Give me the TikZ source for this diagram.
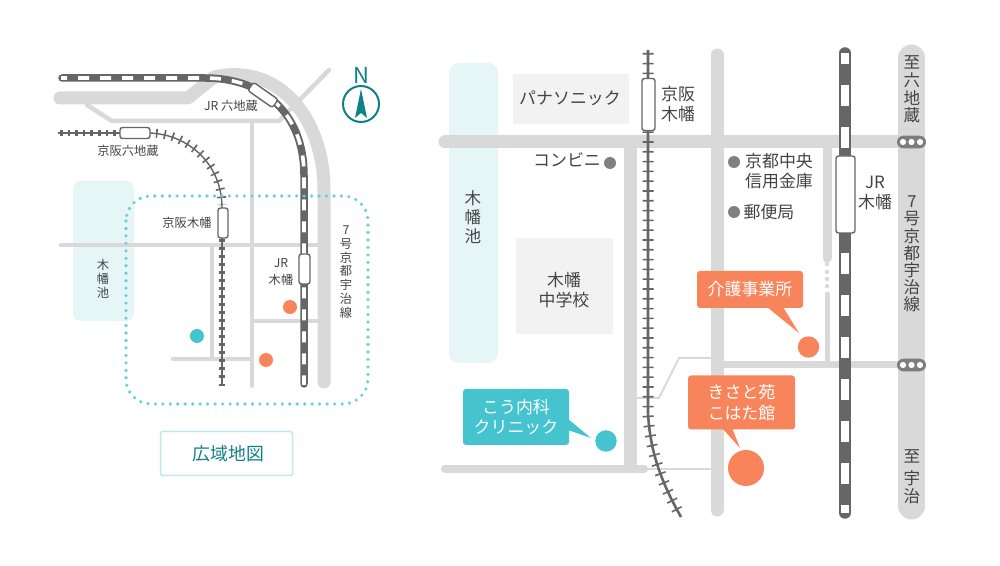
\documentclass[tikz,border=0pt]{standalone}
\usepackage{fontspec}
\setmainfont{Noto Sans CJK JP}
\newdimen\mypx \mypx=0.75pt
\definecolor{roadc}{HTML}{D9D9D9}
\definecolor{trackc}{HTML}{666666}
\definecolor{waterc}{HTML}{E6F5F6}
\definecolor{orangec}{HTML}{F8845C}
\definecolor{tealc}{HTML}{45C3CE}
\definecolor{dotc}{HTML}{6DD0D6}
\definecolor{darkteal}{HTML}{0F8288}
\definecolor{txtc}{HTML}{444444}
\definecolor{boxc}{HTML}{F2F2F2}
\definecolor{markc}{HTML}{808080}
\tikzset{
  road/.style={draw=roadc,line width=#1\mypx,line cap=round,line join=round},
  thinroad/.style={draw=roadc,line width=2\mypx,line join=miter},
  water/.style={fill=waterc,rounded corners=#1\mypx},
  stn/.style={draw=trackc,fill=white,line width=1.4\mypx,rounded corners=2.5\mypx,inner sep=0pt,minimum width=#1},
  smalltxt/.style={text=txtc,font=\fontsize{9.2pt}{10.4pt}\selectfont,align=center,inner sep=0pt},
  bigtxt/.style={text=txtc,font=\fontsize{12.7pt}{15pt}\selectfont,align=center,inner sep=0pt},
  stacktxt/.style={text=txtc,font=\fontsize{12.4pt}{12.9pt}\selectfont,align=center,inner sep=0pt},
  calltxt/.style={text=white,font=\fontsize{12.7pt}{15.4pt}\selectfont,align=center,inner sep=0pt},
  callbox/.style={fill=#1,rounded corners=3\mypx,inner sep=0pt},
  spot/.style={circle,fill=#1,draw=none,inner sep=0pt},
}
\begin{document}
\begin{tikzpicture}[x=0.75pt,y=-0.75pt]
\useasboundingbox (0,0) rectangle (1000,566);
\fill[white] (0,0) rectangle (1000,566);
% ---------- small map ----------
\fill[water=8] (73,181) rectangle (134,321);
\draw[road=13] (60,98) -- (188,98) -- (214,77) .. controls (280,62) and (324,120) .. (324,190) -- (324,382);
\draw[road=4.5] (87,105) -- (112,121) -- (279,121) -- (329,70);
\draw[road=4] (252,121) -- (252,386);
\draw[road=4.5] (61,245) -- (318,245);
\draw[road=4] (212,245) -- (212,359);
\draw[road=4.5] (173,359) -- (252,359);
\draw[road=4] (252,321) -- (318,321);
% small JR
\draw[trackc,line width=7.5\mypx,line cap=round,line join=round] (62,78) -- (205,78) .. controls (265,78) and (304,115) .. (304,175) -- (304,384);
\draw[white,line width=3.6\mypx,dash pattern=on 8.25pt off 8.25pt,dash phase=3.75pt] (61,78) -- (205,78) .. controls (265,78) and (304,115) .. (304,175) -- (304,385);
% small Keihan
\draw[trackc,line width=1.4\mypx] (58,133) -- (120,133);
\draw[trackc,line width=5.5\mypx,dash pattern=on 1.95pt off 3.75pt] (60,133) -- (120,133);
\draw[trackc,line width=1.4\mypx] (150,133) .. controls (190,135) and (222,165) .. (222,208);
\draw[trackc,line width=9\mypx,dash pattern=on 1.2pt off 4.95pt,dash phase=-2.25pt] (153,133) .. controls (190,135) and (222,165) .. (222,205);
\draw[trackc,line width=1.4\mypx] (222,238) -- (222,385);
\draw[trackc,line width=6\mypx,dash pattern=on 2.25pt off 3.75pt] (222,239.5) -- (222,382);
\draw[trackc,line width=1.4\mypx] (219,385) -- (225,385);
% dotted area
\draw[dotc,line width=3.6\mypx,line cap=round,dash pattern=on 0pt off 5.6pt,rounded corners=25\mypx] (126,196) rectangle (368,404);
% stations small
\node[stn=30\mypx,minimum height=11\mypx] (stnKR) at (135,133) {};
\node[stn=10\mypx,minimum height=30\mypx] (stnKK) at (223,223) {};
\node[stn=11\mypx,minimum height=30\mypx] (stnJK) at (304.5,269) {};
\node[stn=30\mypx,minimum height=10\mypx,rotate=-35,anchor=center] (stnJR) at (263,95) {};
\node[spot=orangec,minimum size=14\mypx] (dotA) at (290,307) {};
\node[spot=tealc,minimum size=14\mypx] (dotB) at (197,336) {};
\node[spot=orangec,minimum size=14\mypx] (dotC) at (266,360) {};
% small labels
\node[smalltxt] (lJR) at (231,106) {JR 六地蔵};
\node[smalltxt] (lKR) at (128,151) {京阪六地蔵};
\node[smalltxt] (lKK) at (187,223) {京阪木幡};
\node[smalltxt] (lJK) at (281,272) {JR\\[2pt]木幡};
\node[smalltxt] (lPond) at (103,279) {木\\幡\\池};
\node[smalltxt] (lRoute) at (346,272) {7\\号\\京\\都\\宇\\治\\線};
% compass
\node[circle,draw=darkteal,line width=2\mypx,minimum size=36\mypx,inner sep=0pt] (cmp) at (361,104) {};
\fill[darkteal] (361,89) -- (367,118) -- (361,113) -- (355,118) -- cycle;
\node[text=darkteal,font=\fontsize{16.5pt}{16.5pt}\selectfont,inner sep=0pt] (north) at (361,75) {N};
% label box
\node[draw=tealc!35!white,line width=1.5\mypx,rounded corners=2\mypx,minimum width=132\mypx,minimum height=44\mypx,inner sep=0pt,text=darkteal,font=\fontsize{13.4pt}{15pt}\selectfont] (wide) at (226.5,453.5) {\hspace*{3pt}広域地図};
% ---------- detail map ----------
\fill[water=10] (449,63) rectangle (498,363);
\fill[boxc] (513,74) rectangle (629,124);
\fill[boxc] (516,238) rectangle (613,334);
\draw[road=13] (445,142) -- (915,142);
\draw[road=13] (630,142) -- (630,463);
\draw[road=13] (717,55) -- (717,510);
\draw[road=8] (445,469) -- (644,469);
\draw[road=9] (827,142) -- (827,258);
\draw[road=5] (827,294) -- (827,364);
\foreach \yy in {264,272,279,286} \fill[roadc] (827,\yy) circle (2.2\mypx);
\draw[road=7.5] (717,364.5) -- (915,364.5);
\draw[thinroad] (636,398) -- (659,398) -- (679,358) -- (711,358);
\draw[thinroad] (647,469) -- (711,469);
\draw[road=27] (911.5,58) -- (911.5,506);
% crossings
\foreach \yy in {142,365} {
  \fill[trackc!85!white,rounded corners=6.3\mypx] (897,\yy-6.3) rectangle (926,\yy+6.3);
  \foreach \xx in {903,911.5,920} \fill[white] (\xx,\yy) circle (3.1\mypx);
}
% Keihan detail
\draw[trackc,line width=2.6\mypx,line join=round] (648,50) -- (648,413) .. controls (650,450) and (660,480) .. (681,517);
\draw[trackc,line width=11\mypx,dash pattern=on 1.2pt off 6.15pt,dash phase=-2.25pt] (648,50) -- (648,413) .. controls (650,450) and (660,480) .. (681,517);
% JR detail
\draw[trackc,line width=11.5\mypx,line cap=round] (845,53) -- (845,513);
\draw[white,line width=8\mypx,dash pattern=on 15.75pt off 15.75pt,dash phase=7.5pt] (845,53) -- (845,513);
\node[stn=13\mypx,minimum height=52\mypx] (stnKD) at (648.5,104.5) {};
\node[stn=19\mypx,minimum height=77\mypx] (stnJD) at (845.5,194.5) {};
% markers
\node[spot=markc,minimum size=12\mypx] (mCV) at (610,163) {};
\node[spot=markc,minimum size=12\mypx] (mBK) at (734,162) {};
\node[spot=markc,minimum size=12\mypx] (mPO) at (734,212) {};
% detail labels
\node[bigtxt] (tPan) at (570,98) {パナソニック};
\node[bigtxt] (tKD) at (678,104) {京阪\\木幡};
\node[bigtxt] (tCV) at (567,160) {コンビニ};
\node[bigtxt] (tBK) at (779,171) {京都中央\\信用金庫};
\node[bigtxt] (tPO) at (769,212) {郵便局};
\node[bigtxt] (tJD) at (875,193) {JR\\木幡};
\node[bigtxt] (tSchool) at (564,290) {木幡\\中学校};
\node[stacktxt,font=\fontsize{12.4pt}{14pt}\selectfont] (tPond) at (473,217) {木\\幡\\池};
\node[stacktxt] (tTo1) at (912,89) {至\\[1pt]六\\地\\蔵};
\node[stacktxt] (tRoute) at (912,254) {7\\号\\京\\都\\宇\\治\\線};
\node[stacktxt,font=\fontsize{12.4pt}{14pt}\selectfont] (tTo2) at (912,477) {至\\[2pt]宇\\治};
% callouts
\node[spot=orangec,minimum size=21.4\mypx] (dKaigo) at (808.5,347) {};
\node[spot=orangec,minimum size=36\mypx] (dKisa) at (746,468) {};
\node[spot=tealc,minimum size=21.4\mypx] (dKou) at (606,441) {};
\node[callbox=orangec,minimum width=106\mypx,minimum height=37\mypx] (bKaigo) at (750,289.5) {};
\node[calltxt] (tKaigo) at (bKaigo) {介護事業所};
\node[callbox=orangec,minimum width=107\mypx,minimum height=54\mypx] (bKisa) at (741.5,402.5) {};
\node[calltxt] (tKisa) at (bKisa) {きさと苑\\こはた館};
\node[callbox=tealc,minimum width=106\mypx,minimum height=56\mypx] (bKou) at (516,417) {};
\node[calltxt] (tKou) at (bKou) {こう内科\\クリニック};
\fill[orangec] (767,307) -- (783,307) -- (799,333) -- cycle;
\fill[orangec] (722,428) -- (732,428) -- (740,448) -- cycle;
\fill[tealc] (568,419) -- (568,430) -- (591,438) -- cycle;
\end{tikzpicture}
\end{document}
